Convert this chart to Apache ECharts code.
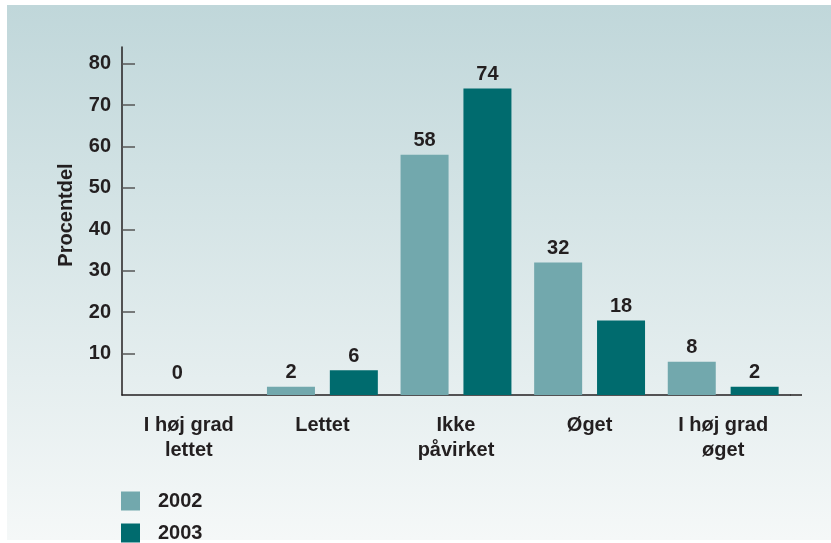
<!DOCTYPE html>
<html>
<head>
<meta charset="utf-8">
<script src="https://cdn.jsdelivr.net/npm/echarts@6/dist/echarts.min.js"></script>
<style>
  html, body { margin: 0; padding: 0; background: #fff; }
  #chart { width: 831px; height: 543px; }
</style>
</head>
<body>
<div id="chart"></div>
<script>
// kategorier og værdier
const categories = ["I høj grad\nlettet", "Lettet", "Ikke\npåvirket", "Øget", "I høj grad\nøget"];
const years = ["2002", "2003"];
const values2002 = [0, 2, 58, 32, 8];
const values2003 = [null, 6, 74, 18, 2];
const yTicks = [10, 20, 30, 40, 50, 60, 70, 80];

const textColor = "#231f20";
const font = "Liberation Sans";
const fontSize = 20;

let chartDom = document.getElementById("chart");
let myChart = echarts.init(chartDom);

// nul-etiketten står lidt til højre i originalen
const data2002 = values2002.map((v, i) =>
  i === 0 ? { value: v, label: { offset: [20, -8] } } : v
);

let option = {
  animation: false,
  graphic: [
    {
      type: "rect",
      z: -100,
      shape: { x: 7, y: 5, width: 824, height: 535 },
      style: {
        fill: new echarts.graphic.LinearGradient(0, 0, 0, 1, [
          { offset: 0, color: "#c0d7da" },
          { offset: 1, color: "#f5f8f8" },
        ]),
      },
    },
    {
      // aksen fortsætter lidt forbi sidste kategori
      type: "line",
      shape: { x1: 790, y1: 395, x2: 802, y2: 395 },
      style: { stroke: textColor, lineWidth: 1.5 },
    },
  ],
  grid: {
    left: 122,
    top: 47,
    width: 668,
    bottom: 148,
  },
  legend: {
    orient: "vertical",
    left: 121,
    top: 491,
    padding: 0,
    itemWidth: 19,
    itemHeight: 19,
    itemGap: 12,
    icon: "rect",
    data: years,
    textStyle: {
      color: textColor,
      fontFamily: font,
      fontWeight: "bold",
      fontSize: fontSize,
      padding: [0, 0, 0, 13],
    },
  },
  xAxis: {
    type: "category",
    data: categories,
    axisLine: { lineStyle: { color: textColor, width: 1.5 } },
    axisTick: {
      inside: false,
      length: 8,
      interval: 0,
      lineStyle: { color: "#555", width: 1.5 },
    },
    axisLabel: {
      interval: 0,
      margin: 18,
      color: textColor,
      fontFamily: font,
      fontWeight: "bold",
      fontSize: fontSize,
      lineHeight: 25,
    },
  },
  yAxis: {
    type: "value",
    min: 0,
    max: 84,
    name: "Procentdel",
    nameLocation: "middle",
    nameGap: 46,
    nameRotate: 90,
    nameTextStyle: {
      color: textColor,
      fontFamily: font,
      fontWeight: "bold",
      fontSize: fontSize,
      padding: [0, 0, 0, 12],
    },
    splitLine: { show: false },
    axisLine: { show: true, lineStyle: { color: textColor, width: 1.5 } },
    axisTick: {
      show: true,
      inside: true,
      length: 13,
      customValues: yTicks,
      lineStyle: { color: "#555", width: 1.5 },
    },
    axisLabel: {
      margin: 11,
      customValues: yTicks,
      color: textColor,
      fontFamily: font,
      fontWeight: "bold",
      fontSize: fontSize,
    },
  },
  series: [
    {
      name: years[0],
      type: "bar",
      data: data2002,
      barWidth: 48,
      barGap: "31%",
      itemStyle: { color: "#72a8ad" },
      label: {
        show: true,
        position: "top",
        distance: 4,
        color: textColor,
        fontFamily: font,
        fontWeight: "bold",
        fontSize: fontSize,
      },
    },
    {
      name: years[1],
      type: "bar",
      data: values2003,
      barWidth: 48,
      barGap: "31%",
      itemStyle: { color: "#006b6e" },
      label: {
        show: true,
        position: "top",
        distance: 4,
        color: textColor,
        fontFamily: font,
        fontWeight: "bold",
        fontSize: fontSize,
      },
    },
  ],
};

option && myChart.setOption(option);
</script>
</body>
</html>
